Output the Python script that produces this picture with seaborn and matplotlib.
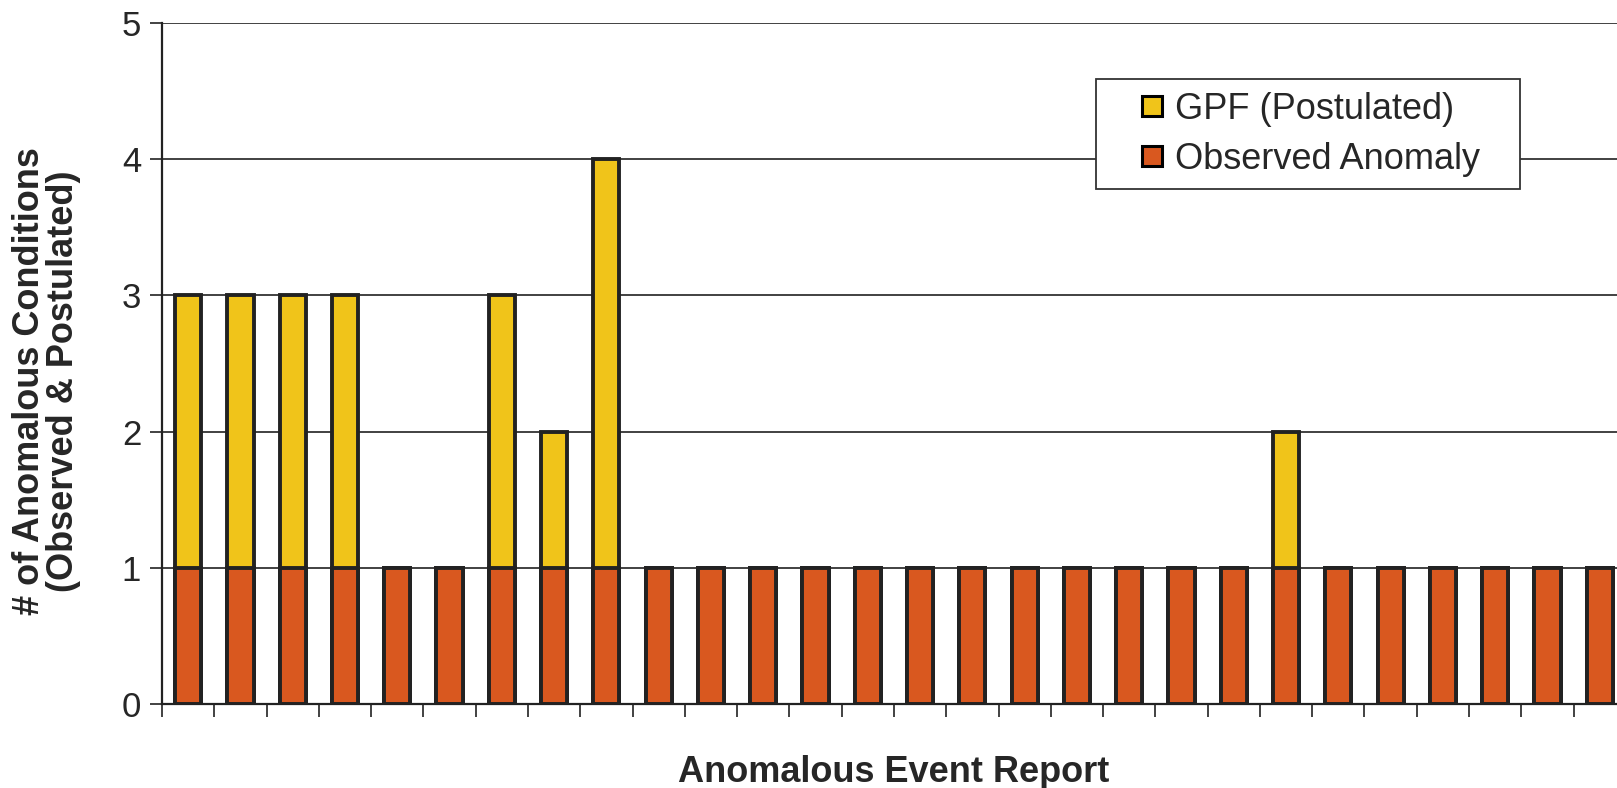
import numpy as np
import pandas as pd
import matplotlib
matplotlib.use("Agg")
import matplotlib.pyplot as plt
from matplotlib.lines import Line2D
import seaborn as sns

# valores
eventos = list(range(1, 29))
observado = [1] * 28
gpf = [2, 2, 2, 2, 0, 0, 2, 1, 3, 0, 0, 0, 0, 0, 0, 0, 0, 0, 0, 0, 0, 1, 0, 0, 0, 0, 0, 0]

cor_obs = "#D9581F"
cor_gpf = "#F0C41A"

df = pd.DataFrame({"evento": eventos, "observado": observado, "gpf": gpf})
df["total"] = df["observado"] + df["gpf"]

sns.set_theme(style="white")
plt.rcParams["font.family"] = ["Liberation Sans", "DejaVu Sans"]

fig = plt.figure(figsize=(16.17, 7.88), dpi=100)
ax = fig.add_axes([0.1002, 0.1066, 0.8998, 0.8642])

sns.barplot(data=df, x="evento", y="total", color=cor_gpf, saturation=1,
            width=0.5, edgecolor="#222222", linewidth=2.8, ax=ax)
sns.barplot(data=df, x="evento", y="observado", color=cor_obs, saturation=1,
            width=0.5, edgecolor="#222222", linewidth=2.8, ax=ax)

ax.set_ylim(0, 5)
ax.set_xlim(-0.5, 27.33)
ax.set_yticks([0, 1, 2, 3, 4, 5])
ax.yaxis.grid(True, color="#333333", linewidth=1.3)
ax.set_axisbelow(True)

# marcas do eixo x entre as categorias
ax.set_xticks(np.arange(-0.5, 27.5, 1.0))
ax.set_xticklabels([])
ax.tick_params(axis="x", direction="out", length=9, width=1.2, color="#222222", bottom=True)
ax.tick_params(axis="y", direction="out", length=9, width=1.2, color="#222222", left=True,
               labelsize=25, pad=6)

for s in ["top", "right"]:
    ax.spines[s].set_visible(False)
for s in ["left", "bottom"]:
    ax.spines[s].set_color("#222222")
    ax.spines[s].set_linewidth(1.6)

ax.set_xlabel("Anomalous Event Report", fontsize=26, fontweight="bold")
ax.xaxis.set_label_coords(0.503, -0.075)
ax.set_ylabel("# of Anomalous Conditions\n(Observed & Postulated)", fontsize=26,
              fontweight="bold", linespacing=0.95)
ax.yaxis.set_label_coords(-0.056, 0.474)

handles = [Line2D([], [], linestyle="none", marker="s", markersize=15, markerfacecolor=cor_gpf,
                  markeredgecolor="black", markeredgewidth=2.2, label="GPF (Postulated)"),
           Line2D([], [], linestyle="none", marker="s", markersize=15, markerfacecolor=cor_obs,
                  markeredgecolor="black", markeredgewidth=2.2, label="Observed Anomaly")]
x0, x1 = 1096 / 1617, 1520 / 1617
y_top = 1 - 79 / 788
leg = ax.legend(handles=handles, loc="upper left", mode="expand",
                bbox_to_anchor=(x0, y_top - 0.2, x1 - x0, 0.2),
                bbox_transform=fig.transFigure, fontsize=26, frameon=True, fancybox=False,
                framealpha=1, handlelength=2.4, handletextpad=-0.55,
                borderpad=0.35, labelspacing=0.42, borderaxespad=0)
leg.get_frame().set_edgecolor("#333333")
leg.get_frame().set_linewidth(1.3)

fig.savefig("out.png", dpi=100)
